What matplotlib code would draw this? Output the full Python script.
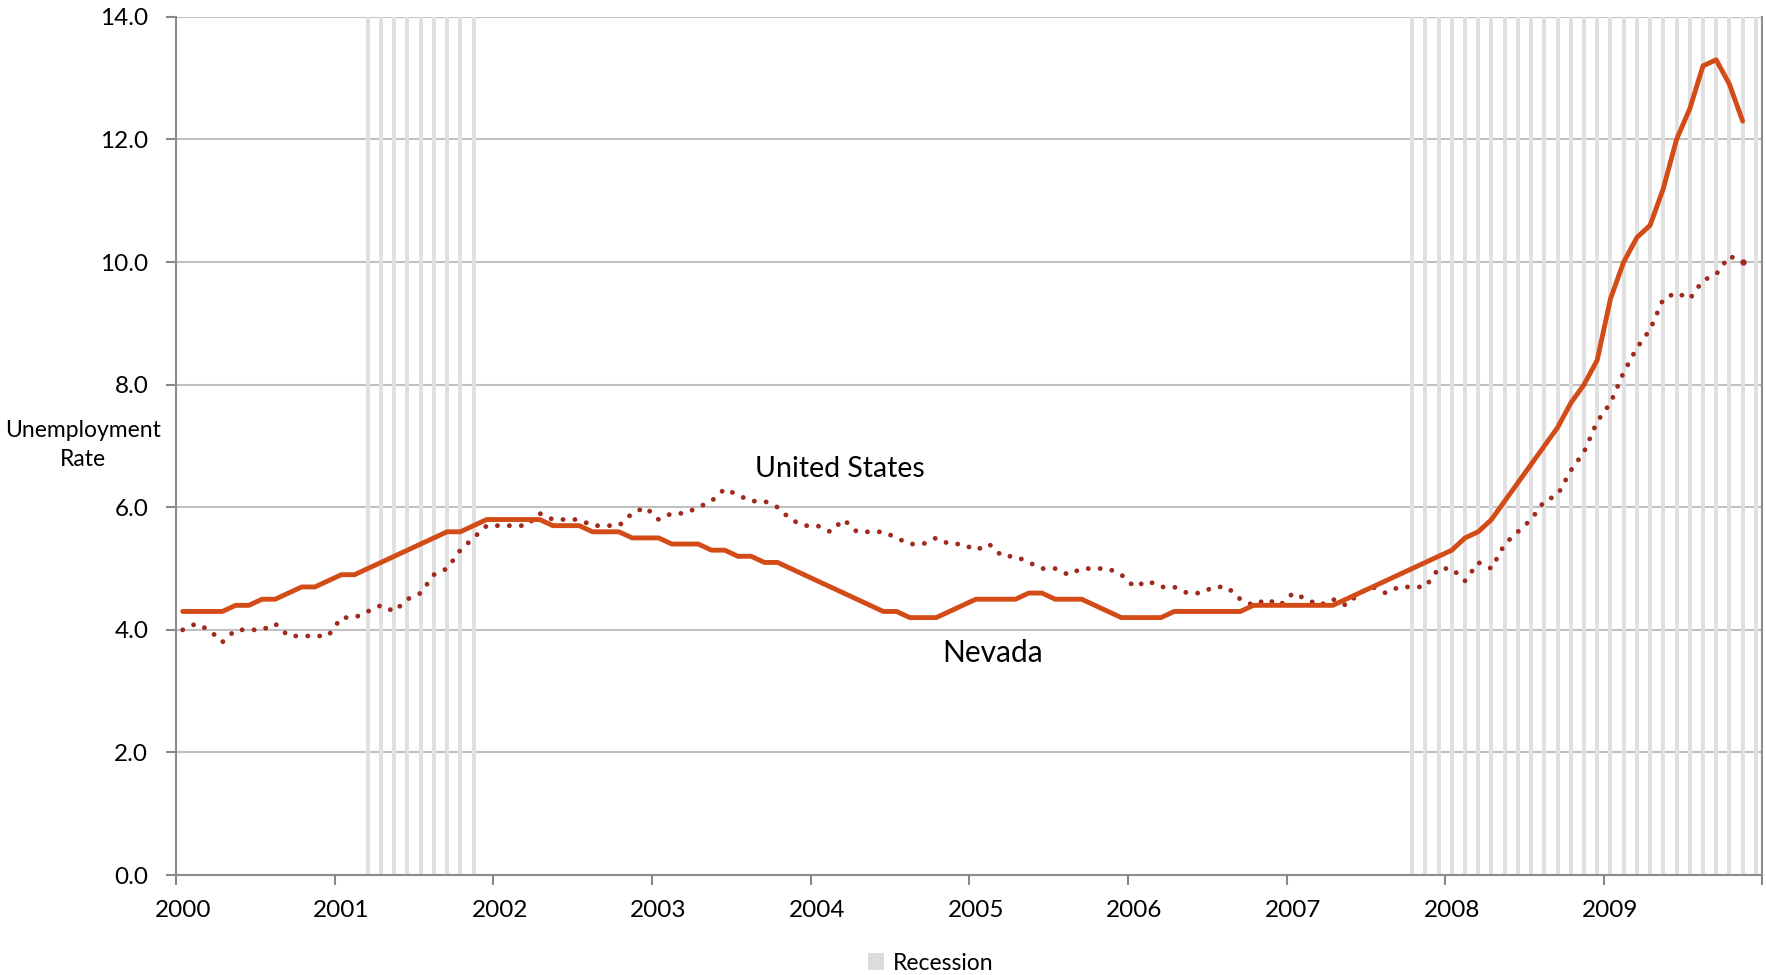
import numpy as np
import pandas as pd
import matplotlib
matplotlib.use("Agg")
import matplotlib.pyplot as plt
from matplotlib.patches import Patch

plt.rcParams['font.family'] = ['Lato', 'DejaVu Sans']

# monthly axis, Jan 2000 - Dec 2009
months = pd.period_range('2000-01', '2009-12', freq='M')
years = [str(y) for y in range(2000, 2010)]

# recession months (shaded)
recessions = [('2001-03', '2001-11'), ('2007-10', '2009-12')]

# Nevada unemployment rate, Jan 2000 - Nov 2009
nevada = [4.3, 4.3, 4.3, 4.3, 4.4, 4.4, 4.5, 4.5, 4.6, 4.7, 4.7, 4.8,
          4.9, 4.9, 5.0, 5.1, 5.2, 5.3, 5.4, 5.5, 5.6, 5.6, 5.7, 5.8,
          5.8, 5.8, 5.8, 5.8, 5.7, 5.7, 5.7, 5.6, 5.6, 5.6, 5.5, 5.5,
          5.5, 5.4, 5.4, 5.4, 5.3, 5.3, 5.2, 5.2, 5.1, 5.1, 5.0, 4.9,
          4.8, 4.7, 4.6, 4.5, 4.4, 4.3, 4.3, 4.2, 4.2, 4.2, 4.3, 4.4,
          4.5, 4.5, 4.5, 4.5, 4.6, 4.6, 4.5, 4.5, 4.5, 4.4, 4.3, 4.2,
          4.2, 4.2, 4.2, 4.3, 4.3, 4.3, 4.3, 4.3, 4.3, 4.4, 4.4, 4.4,
          4.4, 4.4, 4.4, 4.4, 4.5, 4.6, 4.7, 4.8, 4.9, 5.0, 5.1, 5.2,
          5.3, 5.5, 5.6, 5.8, 6.1, 6.4, 6.7, 7.0, 7.3, 7.7, 8.0, 8.4,
          9.4, 10.0, 10.4, 10.6, 11.2, 12.0, 12.5, 13.2, 13.3, 12.9, 12.3]

# United States unemployment rate, Jan 2000 - Nov 2009
us = [4.0, 4.1, 4.0, 3.8, 4.0, 4.0, 4.0, 4.1, 3.9, 3.9, 3.9, 3.9,
      4.2, 4.2, 4.3, 4.4, 4.3, 4.5, 4.6, 4.9, 5.0, 5.3, 5.5, 5.7,
      5.7, 5.7, 5.7, 5.9, 5.8, 5.8, 5.8, 5.7, 5.7, 5.7, 5.9, 6.0,
      5.8, 5.9, 5.9, 6.0, 6.1, 6.3, 6.2, 6.1, 6.1, 6.0, 5.8, 5.7,
      5.7, 5.6, 5.8, 5.6, 5.6, 5.6, 5.5, 5.4, 5.4, 5.5, 5.4, 5.4,
      5.3, 5.4, 5.2, 5.2, 5.1, 5.0, 5.0, 4.9, 5.0, 5.0, 5.0, 4.9,
      4.7, 4.8, 4.7, 4.7, 4.6, 4.6, 4.7, 4.7, 4.5, 4.4, 4.5, 4.4,
      4.6, 4.5, 4.4, 4.5, 4.4, 4.6, 4.7, 4.6, 4.7, 4.7, 4.7, 5.0,
      5.0, 4.8, 5.1, 5.0, 5.4, 5.6, 5.8, 6.1, 6.2, 6.6, 6.9, 7.4,
      7.7, 8.2, 8.6, 8.9, 9.4, 9.5, 9.4, 9.7, 9.8, 10.1, 10.0]

YMAX = 14.0

fig = plt.figure(figsize=(17.66, 9.75), dpi=100)
ax = fig.add_axes([0.0997, 0.1025, 0.8983, 0.8802])

x = np.arange(len(months))
rec = np.zeros(len(months))
for start, end in recessions:
    mask = (months >= pd.Period(start, 'M')) & (months <= pd.Period(end, 'M'))
    rec[mask] = YMAX
ax.bar(x, rec, width=0.3, color='#e0e0e0', zorder=1)

# dotted US line, with a dot kept at the last month
ax.plot(x[:len(us)], us, color='#a02a1e', lw=3.5, linestyle=(0, (0.01, 2.45)),
        dash_capstyle='round', marker='o', markersize=4.6, markeredgewidth=0,
        markevery=[len(us) - 1], zorder=3)
ax.plot(x[:len(nevada)], nevada, color='#d34b16', lw=3.5,
        solid_capstyle='round', zorder=4)

ax.set_xlim(-0.5, len(months) - 0.5)
ax.set_ylim(0, YMAX)
ax.set_yticks(np.arange(0, 14.1, 2))
ax.set_yticklabels([f'{v:.1f}' for v in np.arange(0, 14.1, 2)])
ax.yaxis.grid(True, color='#c0c0c0', lw=1.5, zorder=0)
ax.set_axisbelow(True)

# year ticks on month boundaries, labels on the January category
ax.set_xticks(np.arange(-0.5, len(months), 12))
ax.set_xticklabels([])
ax.set_xticks(np.arange(0, len(months), 12), minor=True)
ax.set_xticklabels(years, minor=True)
ax.tick_params(axis='x', which='major', length=7, width=1.5, color='#888888')
ax.tick_params(axis='x', which='minor', length=0, pad=18, labelsize=17.5)
ax.tick_params(axis='y', length=7, width=1.5, color='#888888', pad=13, labelsize=17.5)

for side in ['left', 'bottom', 'right']:
    ax.spines[side].set_color('#8c8c8c')
    ax.spines[side].set_linewidth(1.5)
ax.spines['top'].set_visible(False)

ax.text(49.75, 6.62, 'United States', fontsize=20.5, ha='center', va='center')
ax.text(61.25, 3.62, 'Nevada', fontsize=21.5, ha='center', va='center')

fig.text(83 / 1766, 1 - 445 / 975, 'Unemployment\nRate', fontsize=16.5,
         ha='center', va='center', linespacing=1.5)

fig.legend(handles=[Patch(facecolor='#dcdcdc', label='Recession')],
           loc='center', bbox_to_anchor=(0.527, 1 - 963 / 975), frameon=False,
           fontsize=16.5, handlelength=0.7, handleheight=0.7, handletextpad=0.4)

fig.savefig('out.png', dpi=100)
plt.close(fig)
